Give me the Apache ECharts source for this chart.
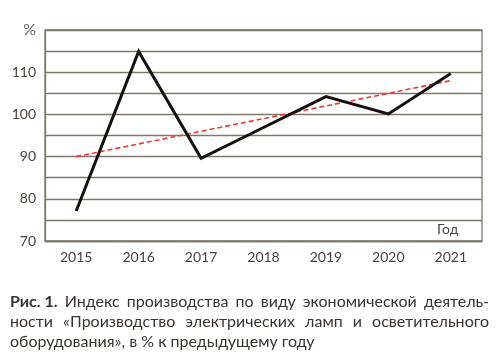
<!DOCTYPE html>
<html>
<head>
<meta charset="utf-8">
<script src="https://cdn.jsdelivr.net/npm/echarts@6/dist/echarts.min.js"></script>
<style>
	html, body { margin: 0; padding: 0; background: #fff; }
	#chart { width: 500px; height: 354px; }
</style>
</head>
<body>
<div id="chart"></div>
<script>
// годы и значения индекса
var years = ['2015', '2016', '2017', '2018', '2019', '2020', '2021'];
var indexValues = [77.1, 114.9, 89.6, 96.9, 104.2, 100.1, 109.7];
// линия тренда
var trendValues = [90, 93, 96, 99, 102, 105, 108];

// подпись: строки, первое слово строки 1 жирное
var captionLines = [
	['Рис. 1.', 'Индекс', 'производства', 'по', 'виду', 'экономической', 'деятель-'],
	['ности', '«Производство', 'электрических', 'ламп', 'и', 'осветительного'],
	['оборудования»,', 'в', '%', 'к', 'предыдущему', 'году']
];

var axisColor = '#7d776c';
var textColor = '#4a443e';
var font = 'Lato, "Open Sans", sans-serif';
var capSize = 16;

var myChart = echarts.init(document.getElementById('chart'));

// выравнивание по ширине
var ctx = document.createElement('canvas').getContext('2d');
function textWidth(t, bold) {
	ctx.font = (bold ? 'bold ' : '') + capSize + 'px ' + font;
	return ctx.measureText(t).width;
}

var capLeft = 10, capRight = 489;
var graphics = [];
captionLines.forEach(function (words, i) {
	var widths = words.map(function (w, j) { return textWidth(w, i === 0 && j === 0); });
	var total = widths.reduce(function (a, b) { return a + b; }, 0);
	var gap = textWidth(' ', false);
	if (i < captionLines.length - 1) {
		gap = (capRight - capLeft - total) / (words.length - 1);
	}
	var x = capLeft;
	words.forEach(function (w, j) {
		graphics.push({
			type: 'text',
			left: x,
			top: 294 + i * 20,
			style: {
				text: w,
				fill: '#3a3430',
				font: (i === 0 && j === 0 ? 'bold ' : '') + capSize + 'px ' + font
			}
		});
		x += widths[j] + gap;
	});
});

graphics.push({
	type: 'text',
	left: 437,
	top: 222,
	style: { text: 'Год', fill: textColor, font: '14px ' + font }
});

myChart.setOption({
	animation: false,
	grid: { left: 45, right: 18, top: 30, bottom: 113, show: true, borderColor: axisColor, borderWidth: 1.3 },
	xAxis: {
		type: 'category',
		data: years,
		boundaryGap: true,
		axisLine: { lineStyle: { color: axisColor, width: 1.3 } },
		axisTick: { show: false },
		axisLabel: { color: textColor, fontSize: 14, fontFamily: font, margin: 9 }
	},
	yAxis: {
		type: 'value',
		min: 70,
		max: 120,
		interval: 5,
		axisLine: { show: true, lineStyle: { color: axisColor, width: 1.3 } },
		axisTick: { show: false },
		splitLine: { lineStyle: { color: axisColor, width: 1.3 } },
		axisLabel: {
			color: textColor,
			fontSize: 14,
			fontFamily: font,
			margin: 9,
			formatter: function (v) {
				if (v === 120) return '{p|%}';
				return v % 10 === 0 ? String(v) : '';
			},
			rich: {
				p: { fontSize: 16, color: '#6a655e', fontFamily: font }
			}
		}
	},
	series: [
		{
			type: 'line',
			data: trendValues,
			symbol: 'none',
			lineStyle: { color: '#ea3a34', width: 1.6, type: [5, 3] },
			z: 2
		},
		{
			type: 'line',
			data: indexValues,
			symbol: 'none',
			lineStyle: { color: '#15100e', width: 3, join: 'miter' },
			z: 3
		}
	],
	graphic: graphics
});
</script>
</body>
</html>
